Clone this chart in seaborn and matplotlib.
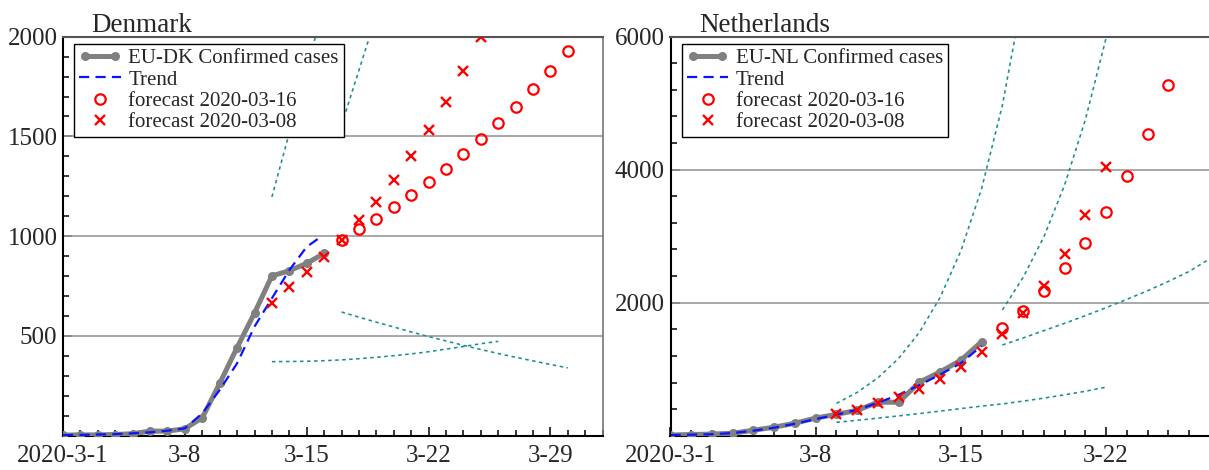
import numpy as np
import pandas as pd
import matplotlib
matplotlib.use("Agg")
import matplotlib.pyplot as plt
import seaborn as sns
import matplotlib.dates as mdates
from matplotlib.ticker import MultipleLocator, FixedLocator
from matplotlib.legend_handler import HandlerLine2D

START = pd.Timestamp("2020-03-01")

# ---------------- Denmark ----------------
dk_case_days = list(range(16))
dk_cases = [3, 4, 4, 6, 10, 23, 23, 35, 90, 262, 442, 615, 801, 827, 864, 914]
dk_trend_days = [0, 1, 2, 3, 4, 5, 6, 7, 8, 9, 10, 11, 12, 13, 14, 14.7]
dk_trend = [3, 4, 6, 8, 12, 17, 25, 37, 112, 229, 363, 547, 689, 830, 947, 990]
dk_fc16_days = list(range(16, 30))
dk_fc16 = [981, 1038, 1085, 1146, 1209, 1272, 1338, 1410, 1489, 1566, 1650, 1737, 1830, 1929]
dk_fc08_days = list(range(12, 25))
dk_fc08 = [667, 747, 822, 897, 981, 1081, 1173, 1282, 1402, 1532, 1674, 1830, 2000]
dk_lo08_days = list(range(12, 26))
dk_lo08 = [371, 372, 373, 376, 380, 386, 393, 401, 410, 421, 434, 447, 461, 473]
dk_hi08_days = [12, 13, 14, 15]
dk_hi08 = [1197, 1518, 1839, 2160]
dk_lo16_days = list(range(16, 30))
dk_lo16 = [620, 594, 569, 545, 520, 497, 475, 453, 432, 412, 393, 375, 357, 340]
dk_hi16_days = [16, 17, 18]
dk_hi16 = [1557, 1832, 2107]

# ---------------- Netherlands ----------------
nl_case_days = list(range(16))
nl_cases = [10, 18, 24, 38, 82, 128, 188, 265, 321, 382, 503, 503, 804, 959, 1135, 1413]
nl_trend_days = list(range(16))
nl_trend = [10, 15, 22, 40, 75, 120, 180, 250, 315, 390, 495, 615, 760, 920, 1090, 1350]
nl_fc16_days = list(range(16, 25))
nl_fc16 = [1615, 1875, 2176, 2517, 2903, 3369, 3911, 4538, 5270]
nl_fc08_days = list(range(8, 22))
nl_fc08 = [322, 386, 487, 587, 702, 853, 1038, 1254, 1525, 1841, 2252, 2728, 3319, 4036]
nl_lo08_days = list(range(8, 22))
nl_lo08 = [201, 232, 264, 298, 333, 370, 408, 445, 478, 520, 565, 615, 668, 730]
nl_hi08_days = list(range(8, 18))
nl_hi08 = [487, 651, 870, 1163, 1555, 2080, 2780, 3716, 4968, 6642]
nl_lo16_days = list(range(16, 27))
nl_lo16 = [1364, 1470, 1580, 1690, 1805, 1925, 2050, 2180, 2320, 2470, 2660]
nl_hi16_days = list(range(16, 23))
nl_hi16 = [1890, 2380, 2990, 3770, 4750, 5980, 7530]

x_tick_days = [0, 7, 14, 21, 28]
x_tick_labels = ["2020-3-1", "3-8", "3-15", "3-22", "3-29"]

sns.set_style("ticks")
plt.rcParams["font.family"] = ["Liberation Serif", "DejaVu Serif"]

W, H = 1209, 470
fig = plt.figure(figsize=(W / 100, H / 100), dpi=100)


def dates(days):
    return START + pd.to_timedelta(np.asarray(days, dtype=float), unit="D")


def draw(ax, title, label, d):
    (cdays, cases, tdays, trend, f16d, f16, f08d, f08, bounds, xmax, ymax,
     yticks, yminor) = d
    teal = "#1b8f8f"
    for bd, bv in bounds:
        sns.lineplot(x=dates(bd), y=bv, ax=ax, color=teal, linewidth=1.15,
                     linestyle=(0, (2.2, 2.2)), estimator=None, sort=False,
                     legend=False, zorder=2)
    sns.lineplot(x=dates(cdays), y=cases, ax=ax, color="#808080", linewidth=3.6,
                 marker="o", markersize=6.5, markeredgewidth=0, estimator=None,
                 sort=False, legend=False, zorder=3)
    h_cases = ax.lines[-1]
    sns.lineplot(x=dates(tdays), y=trend, ax=ax, color="#0a14ff", linewidth=1.6,
                 linestyle=(0, (4.6, 2.8)), estimator=None, sort=False,
                 legend=False, zorder=4)
    h_trend = ax.lines[-1]
    sns.lineplot(x=dates(f16d), y=f16, ax=ax, color="red", linestyle="none",
                 marker="o", markersize=7.5, markerfacecolor="none",
                 markeredgecolor="red", markeredgewidth=1.6, estimator=None,
                 sort=False, legend=False, zorder=5)
    h_f16 = ax.lines[-1]
    sns.lineplot(x=dates(f08d), y=f08, ax=ax, color="red", linestyle="none",
                 marker="x", markersize=7, markeredgecolor="red",
                 markeredgewidth=1.7, estimator=None, sort=False,
                 legend=False, zorder=5)
    h_f08 = ax.lines[-1]

    ax.set_xlim(dates([0])[0], dates([xmax])[0])
    ax.set_ylim(0, ymax)
    ax.xaxis.set_major_locator(FixedLocator(mdates.date2num(dates(x_tick_days))))
    ax.set_xticklabels(x_tick_labels)
    ax.xaxis.set_minor_locator(mdates.DayLocator())
    ax.set_yticks(yticks)
    ax.set_yticklabels([str(v) for v in yticks])
    ax.yaxis.set_minor_locator(MultipleLocator(yminor))
    ax.tick_params(which="both", direction="in", width=1.1, color="black",
                   labelsize=18, top=False, right=False)
    ax.tick_params(which="major", length=6.5)
    ax.tick_params(which="minor", length=4)
    ax.tick_params(axis="y", pad=4)
    ax.tick_params(axis="x", pad=6.5)
    for yv in yticks:
        if yv < ymax:
            ax.axhline(yv, color="#9a9a9a", linewidth=1.2, zorder=1)
    ax.set_xlabel("")
    ax.set_ylabel("")
    ax.spines["left"].set_color("black")
    ax.spines["bottom"].set_color("black")
    ax.spines["left"].set_linewidth(1.5)
    ax.spines["bottom"].set_linewidth(1.5)
    ax.spines["top"].set_color("#555555")
    ax.spines["top"].set_linewidth(1.5)
    ax.spines["right"].set_color("#777777")
    ax.spines["right"].set_linewidth(1.2)
    for s in ax.spines.values():
        s.set_visible(True)
    ax.text(0.053, 1.012, title, transform=ax.transAxes, fontsize=19.5,
            va="baseline", ha="left")

    bb = ax.get_position()
    axw = bb.width * W
    axh = bb.height * H
    leg = ax.legend([h_cases, h_trend, h_f16, h_f08],
                    [label, "Trend", "forecast 2020-03-16", "forecast 2020-03-08"],
                    loc="upper left",
                    bbox_to_anchor=(11 / axw, 1 - 7 / axh),
                    borderaxespad=0, fontsize=15, frameon=True, fancybox=False,
                    framealpha=1, edgecolor="black", handlelength=2.0,
                    handletextpad=0.35, labelspacing=0.08, borderpad=0.25,
                    numpoints=1,
                    handler_map={h_cases: HandlerLine2D(numpoints=2)})
    leg.get_frame().set_linewidth(1.0)


ax1 = fig.add_axes([63 / W, 1 - 435.7 / H, (602.7 - 63) / W, 399 / H])
ax2 = fig.add_axes([670.5 / W, 1 - 435.7 / H, (1209.8 - 670.5) / W, 399 / H])

draw(ax1, "Denmark", "EU-DK Confirmed cases",
     (dk_case_days, dk_cases, dk_trend_days, dk_trend, dk_fc16_days, dk_fc16,
      dk_fc08_days, dk_fc08,
      [(dk_lo08_days, dk_lo08), (dk_hi08_days, dk_hi08),
       (dk_lo16_days, dk_lo16), (dk_hi16_days, dk_hi16)],
      31, 2000, [500, 1000, 1500, 2000], 100))
draw(ax2, "Netherlands", "EU-NL Confirmed cases",
     (nl_case_days, nl_cases, nl_trend_days, nl_trend, nl_fc16_days, nl_fc16,
      nl_fc08_days, nl_fc08,
      [(nl_lo08_days, nl_lo08), (nl_hi08_days, nl_hi08),
       (nl_lo16_days, nl_lo16), (nl_hi16_days, nl_hi16)],
      26, 6000, [2000, 4000, 6000], 400))

fig.savefig("out.png", dpi=100)
